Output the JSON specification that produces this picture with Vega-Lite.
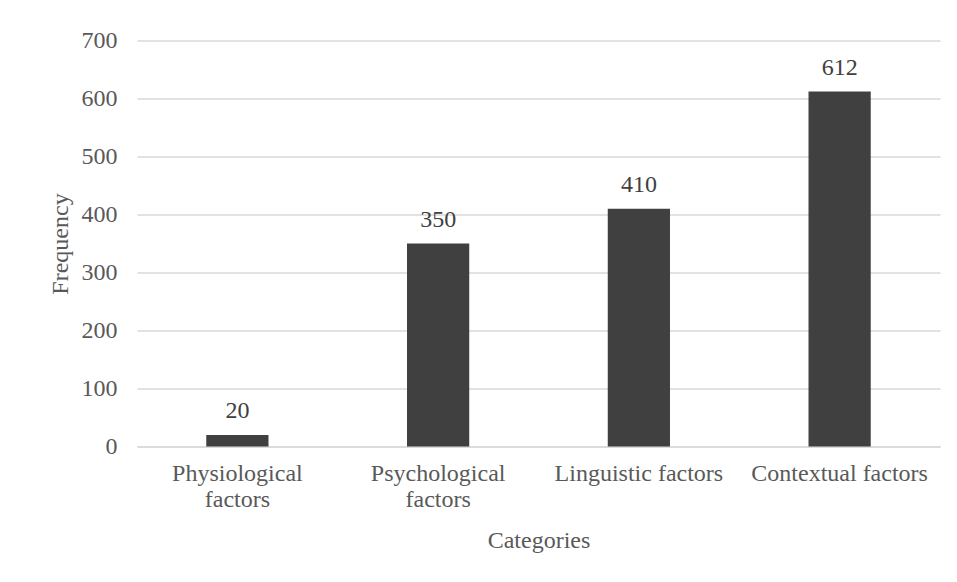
{
  "$schema": "https://vega.github.io/schema/vega-lite/v6.json",
  "autosize": "none",
  "width": 803,
  "height": 406,
  "padding": {"left": 137, "top": 40.5, "right": 17, "bottom": 135.5},
  "background": "white",
  "config": {
    "view": {"stroke": null},
    "font": "Liberation Serif"
  },
  "data": {
    "values": [
      {"category": "Physiological factors", "frequency": 20},
      {"category": "Psychological factors", "frequency": 350},
      {"category": "Linguistic factors", "frequency": 410},
      {"category": "Contextual factors", "frequency": 612}
    ]
  },
  "encoding": {
    "x": {
      "field": "category",
      "type": "nominal",
      "sort": null,
      "scale": {"paddingInner": 0.69, "paddingOuter": 0.345},
      "axis": {
        "title": "Categories",
        "titleFont": "Liberation Serif",
        "titleFontSize": 24,
        "titleFontWeight": "normal",
        "titleColor": "#595959",
        "titlePadding": 17,
        "labelFont": "Liberation Serif",
        "labelFontSize": 24,
        "labelColor": "#595959",
        "labelAngle": 0,
        "labelPadding": 15,
        "labelLineHeight": 26,
        "labelLimit": 300,
        "labelExpr": "indexof(['Physiological factors','Psychological factors'], datum.label) >= 0 ? split(datum.label, ' ') : datum.label",
        "domain": true,
        "domainColor": "#d9d9d9",
        "domainWidth": 1.3,
        "ticks": false,
        "grid": false
      }
    },
    "y": {
      "field": "frequency",
      "type": "quantitative",
      "scale": {"domain": [0, 700], "nice": false},
      "axis": {
        "title": "Frequency",
        "titleFont": "Liberation Serif",
        "titleFontSize": 24,
        "titleFontWeight": "normal",
        "titleColor": "#595959",
        "titlePadding": 9,
        "labelFont": "Liberation Serif",
        "labelFontSize": 24,
        "labelColor": "#595959",
        "labelPadding": 20,
        "values": [0, 100, 200, 300, 400, 500, 600, 700],
        "domain": false,
        "ticks": false,
        "grid": true,
        "gridColor": "#d9d9d9",
        "gridWidth": 1.3
      }
    }
  },
  "layer": [
    {"mark": {"type": "bar", "color": "#404040"}},
    {
      "mark": {"type": "text", "baseline": "alphabetic", "dy": -17, "font": "Liberation Serif", "fontSize": 24, "color": "#404040"},
      "encoding": {"text": {"field": "frequency", "type": "quantitative"}}
    }
  ]
}
